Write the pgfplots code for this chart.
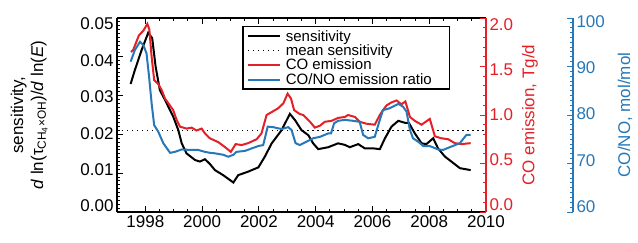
\documentclass[border=0pt]{standalone}
\usepackage{fontspec}
\setmainfont{Liberation Sans}
\usepackage{pgfplots}
\pgfplotsset{compat=1.18}
\definecolor{cored}{RGB}{228,32,38}
\definecolor{coblue}{RGB}{38,120,184}
\newcommand{\tickfont}{\fontsize{17}{20}\selectfont}
\pgfplotsset{
  common/.style={
    scale only axis, width=369pt, height=194pt,
    xmin=1997, xmax=2010,
    tick align=inside,
    major tick length=6pt, minor tick length=3pt,
    axis line style={line width=1.5pt},
    every tick/.style={line width=1pt},
    tick label style={font=\tickfont},
    /pgf/number format/assume math mode=true,
  },
}
\begin{document}
\begin{tikzpicture}
% main (sensitivity) axis
\begin{axis}[common,
  name=main,
  ymin=0, ymax=0.05,
  axis y line*=left,
  xtick={1998,2000,2002,2004,2006,2008,2010},
  minor x tick num=3,
  xticklabel style={/pgf/number format/1000 sep={}},
  ytick={0,0.01,0.02,0.03,0.04,0.05},
  minor y tick num=9,
  scaled y ticks=false,
  yticklabel style={/pgf/number format/fixed, /pgf/number format/fixed zerofill, /pgf/number format/precision=2, yshift=6pt-2.4pt*\ticknum},
  ylabel={\begin{tabular}{c}sensitivity,\\[0pt]\textit{d} ln(τ\textsubscript{CH\textsubscript{4}×OH})/\textit{d} ln(\textit{E})\end{tabular}},
  every axis y label/.style={at={(axis description cs:-0.238,0.5)}, anchor=center, rotate=90, font=\tickfont},
]
\addplot[black, dash pattern=on 1.5pt off 3.5pt, line width=1.3pt] coordinates {(1997,0.021) (2010,0.021)};
\addplot[black, line width=2pt] coordinates {
(1997.48,0.0330) (1997.63,0.0366) (1997.87,0.0418) (1998.10,0.0462) (1998.24,0.0448)
(1998.36,0.0375) (1998.51,0.0314) (1998.69,0.0289) (1998.98,0.0246) (1999.16,0.0211)
(1999.28,0.0177) (1999.45,0.0151) (1999.75,0.0134) (1999.92,0.0130) (2000.10,0.0136)
(2000.27,0.0124) (2000.45,0.0108) (2000.74,0.0095) (2001.10,0.0076) (2001.27,0.0095)
(2001.62,0.0104) (2001.98,0.0115) (2002.21,0.0143) (2002.45,0.0177) (2002.80,0.0211)
(2003.09,0.0253) (2003.27,0.0237) (2003.50,0.0211) (2003.74,0.0198) (2003.91,0.0177)
(2004.09,0.0162) (2004.44,0.0167) (2004.79,0.0177) (2005.03,0.0173) (2005.20,0.0167)
(2005.50,0.0175) (2005.73,0.0164) (2006.03,0.0164) (2006.26,0.0162) (2006.44,0.0190)
(2006.67,0.0220) (2006.91,0.0235) (2007.14,0.0230) (2007.28,0.0230) (2007.49,0.0203)
(2007.73,0.0177) (2007.90,0.0175) (2008.14,0.0190) (2008.31,0.0164) (2008.55,0.0143)
(2008.78,0.0130) (2009.08,0.0113) (2009.46,0.0108)};
\end{axis}
% red CO emission axis
\begin{axis}[common,
  ymin=0, ymax=2,
  axis y line*=right, axis x line=none,
  ytick={0,0.5,1,1.5,2}, minor y tick num=4,
  yticklabel style={/pgf/number format/fixed, /pgf/number format/fixed zerofill, /pgf/number format/precision=1, text=cored, yshift=7pt-3.5pt*\ticknum},
  y axis line style={cored},
  ytick style={cored}, minor y tick style={cored},
  ylabel={CO emission, Tg/d},
  every axis y label/.style={at={(axis description cs:1.119,0.5)}, anchor=center, rotate=90, text=cored, font=\tickfont},
]
\addplot[cored, line width=2pt] coordinates {
(1997.49,1.65) (1997.57,1.67) (1997.77,1.82) (1997.93,1.87) (1998.07,1.94) (1998.14,1.88)
(1998.22,1.60) (1998.31,1.36) (1998.45,1.32) (1998.57,1.26) (1998.69,1.17) (1998.86,1.10)
(1998.98,1.05) (1999.10,0.95) (1999.22,0.88) (1999.45,0.86) (1999.63,0.87) (1999.80,0.84)
(1999.98,0.86) (2000.10,0.81) (2000.27,0.76) (2000.57,0.72) (2000.80,0.67) (2001.01,0.62)
(2001.18,0.70) (2001.39,0.69) (2001.62,0.71) (2001.92,0.75) (2002.09,0.81) (2002.27,1.00)
(2002.45,1.03) (2002.68,1.07) (2002.86,1.12) (2003.01,1.22) (2003.13,1.17) (2003.24,1.05)
(2003.44,1.01) (2003.56,1.00) (2003.80,0.93) (2003.97,0.87) (2004.15,0.89) (2004.32,0.93)
(2004.56,0.94) (2004.79,0.97) (2005.03,0.98) (2005.14,1.00) (2005.38,0.98) (2005.55,0.93)
(2005.79,0.91) (2006.08,0.90) (2006.26,1.00) (2006.37,1.05) (2006.50,1.10) (2006.67,1.13)
(2006.85,1.15) (2007.02,1.11) (2007.16,1.14) (2007.32,0.98) (2007.49,0.94) (2007.73,0.90)
(2008.02,0.96) (2008.20,0.78) (2008.43,0.76) (2008.67,0.75) (2008.90,0.71) (2009.14,0.70)
(2009.46,0.71)};
\end{axis}
% blue CO/NO data axis (with legend)
\begin{axis}[common,
  ymin=60, ymax=100,
  hide y axis, axis x line=none,
  legend cell align=left,
  legend style={at={(axis description cs:0.339,0.959)}, anchor=north west,
    font=\fontsize{15}{16}\selectfont, draw=black, line width=1.5pt,
    inner xsep=4pt, inner ysep=1.5pt, row sep=-2pt, column sep=3pt},
  legend image code/.code={\draw[#1] (0pt,0pt) -- (32pt,0pt);},
]
\addlegendimage{black, line width=2pt}
\addlegendentry{sensitivity}
\addlegendimage{black, dash pattern=on 1.5pt off 3.5pt, line width=1.3pt}
\addlegendentry{mean sensitivity}
\addlegendimage{cored, line width=2pt}
\addlegendentry{CO emission}
\addplot[coblue, line width=2pt] coordinates {
(1997.48,91.0) (1997.63,93.4) (1997.81,95.1) (1997.93,94.4) (1998.04,92.7) (1998.13,87.9)
(1998.22,82.4) (1998.31,77.9) (1998.45,76.6) (1998.63,74.2) (1998.87,72.2) (1999.04,72.4)
(1999.28,72.9) (1999.57,72.8) (1999.86,72.8) (2000.10,72.4) (2000.27,72.2) (2000.45,72.1)
(2000.74,71.8) (2000.92,71.4) (2001.10,71.8) (2001.21,72.4) (2001.51,72.6) (2001.74,73.1)
(2001.98,73.6) (2002.15,73.8) (2002.31,77.6) (2002.50,77.5) (2002.80,77.1) (2003.03,77.5)
(2003.15,76.9) (2003.29,74.2) (2003.44,73.8) (2003.68,74.5) (2003.91,75.2) (2004.15,75.5)
(2004.44,76.2) (2004.54,76.2) (2004.65,78.3) (2004.79,78.8) (2005.03,79.0) (2005.32,78.8)
(2005.55,78.6) (2005.67,75.9) (2005.85,75.2) (2006.08,75.5) (2006.26,79.0) (2006.37,81.0)
(2006.61,81.4) (2006.91,82.3) (2007.08,81.7) (2007.20,80.7) (2007.32,76.9) (2007.43,75.2)
(2007.61,74.5) (2007.79,73.6) (2008.02,73.6) (2008.31,72.9) (2008.49,72.8) (2008.78,73.5)
(2009.08,74.2) (2009.31,75.9) (2009.46,75.9)};
\addlegendentry{CO/NO emission ratio\hspace*{12pt}}
\end{axis}
% blue offset axis line
\begin{axis}[common,
  at={(87pt,0pt)},
  ymin=60, ymax=100,
  axis y line*=right, axis x line=none,
  ytick={60,70,80,90,100}, minor y tick num=9,
  yticklabel style={text=coblue, yshift=5.5pt-2.25pt*\ticknum},
  y axis line style={coblue},
  ytick style={coblue}, minor y tick style={coblue},
  ylabel={CO/NO, mol/mol},
  every axis y label/.style={at={(axis description cs:1.141,0.5)}, anchor=center, rotate=90, text=coblue, font=\tickfont},
]
\addplot[draw=none] coordinates {(1997,60)};
\end{axis}
\pgfresetboundingbox
\path (-117pt,-30pt) rectangle (521pt,212pt);
\end{tikzpicture}
\end{document}
